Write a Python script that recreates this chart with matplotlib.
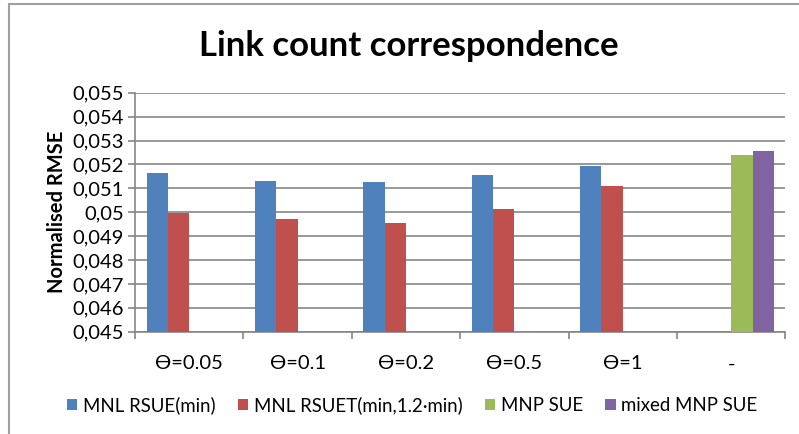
import numpy as np
import matplotlib
matplotlib.use('Agg')
import matplotlib.pyplot as plt
from matplotlib.patches import Rectangle
from matplotlib.ticker import FixedLocator, FuncFormatter

plt.rcParams['font.family'] = ['Lato', 'DejaVu Sans']

# datos
categories = ['ϴ=0.05', 'ϴ=0.1', 'ϴ=0.2', 'ϴ=0.5', 'ϴ=1', '-']
series_names = ['MNL RSUE(min)', 'MNL RSUET(min,1.2·min)', 'MNP SUE', 'mixed MNP SUE']
rsue = [0.05165, 0.05132, 0.05126, 0.05154, 0.05194, np.nan]
rsuet = [0.04998, 0.04971, 0.04957, 0.05012, 0.05108, np.nan]
mnp = [np.nan, np.nan, np.nan, np.nan, np.nan, 0.05238]
mixed_mnp = [np.nan, np.nan, np.nan, np.nan, np.nan, 0.05257]
yticks = [0.045, 0.046, 0.047, 0.048, 0.049, 0.05, 0.051, 0.052, 0.053, 0.054, 0.055]

colors = ['#4F81BD', '#C0504D', '#9BBB59', '#8064A2']
all_series = [rsue, rsuet, mnp, mixed_mnp]

fig = plt.figure(figsize=(7.99, 4.34), dpi=100)
ax = fig.add_axes([0.169, 0.2357, 0.814, 0.5506])

x = np.arange(len(categories))
w = 0.197
for i, (vals, name, c) in enumerate(zip(all_series, series_names, colors)):
    base = 0.045
    heights = np.array(vals) - base
    ax.bar(x + (i - 1.5) * w, heights, width=w, bottom=base, color=c,
           label=name, zorder=3)

ax.set_xlim(-0.5, len(categories) - 0.5)
ax.set_ylim(0.045, 0.055)
ax.yaxis.set_major_locator(FixedLocator(yticks))
ax.yaxis.set_major_formatter(FuncFormatter(lambda v, p: ('%g' % round(v, 3)).replace('.', ',')))
ax.grid(axis='y', color='#868686', linewidth=1.2, zorder=0)

ax.set_xticks(x)
ax.set_xticklabels(categories, fontsize=14.5)
ax.xaxis.set_minor_locator(FixedLocator(np.arange(-0.5, len(categories), 1)))
ax.tick_params(axis='x', which='major', length=0, pad=17)
ax.tick_params(axis='x', which='minor', length=5, color='#868686', width=1.2)
ax.tick_params(axis='y', length=5, color='#868686', width=1.2, labelsize=14.5, pad=3)

for s in ['top', 'right']:
    ax.spines[s].set_visible(False)
for s in ['left', 'bottom']:
    ax.spines[s].set_color('#868686')
    ax.spines[s].set_linewidth(1.2)

ax.set_ylabel('Normalised RMSE', fontsize=14.5, fontweight='bold', labelpad=4)
fig.text(0.512, 0.893, 'Link count correspondence', ha='center', va='center',
         fontsize=25, fontweight='bold')

fig.legend(loc='center', bbox_to_anchor=(0.516, 0.066), ncol=4, frameon=False,
           fontsize=13.4, handlelength=0.55, handleheight=0.55, handletextpad=0.3,
           columnspacing=1.2)

# marco exterior tipo Excel
fig.patches.append(Rectangle((9 / 799, -0.05), 1.2, 1.05 - 4.5 / 434,
                             transform=fig.transFigure, fill=False,
                             edgecolor='#A0A0A0', linewidth=1.5))

fig.savefig('out.png', dpi=100)
